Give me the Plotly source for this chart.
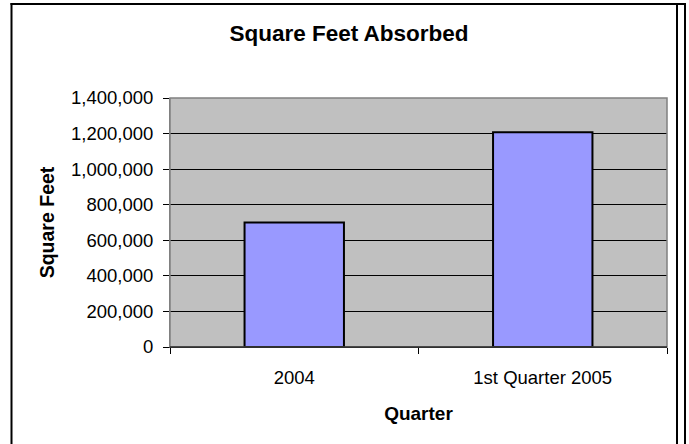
import plotly.graph_objects as go

categories = ["2004", "1st Quarter 2005"]
values = [700000, 1207000]
y_ticks = [0, 200000, 400000, 600000, 800000, 1000000, 1200000, 1400000]

W, H = 689, 444
L, T = 170, 98
R = W - 667
B = H - 347
pw, ph = W - L - R, H - T - B

def px_x(x):
    return (x - L) / pw

def px_y(y):
    return (H - B - y) / ph

fig = go.Figure(go.Bar(
    x=categories, y=values,
    marker=dict(color="#9999FF", line=dict(color="black", width=2)),
    width=0.4,
))

font_family = "Liberation Sans, Arial, sans-serif"

def filled(x0, x1, y0, y1):
    return dict(type="rect", xref="paper", yref="paper",
                x0=px_x(x0), x1=px_x(x1), y0=px_y(y1), y1=px_y(y0),
                fillcolor="black", line=dict(width=0), layer="above")

fig.update_layout(
    width=W, height=H,
    margin=dict(l=L, r=R, t=T, b=B, pad=0),
    paper_bgcolor="white",
    plot_bgcolor="#C0C0C0",
    showlegend=False,
    font=dict(family=font_family, color="black", size=18),
    title=dict(text="<b>Square Feet Absorbed</b>", x=px_x(349), xref="paper", xanchor="center",
               y=1 - 33 / H, yanchor="middle", font=dict(size=22.5, family=font_family, color="black")),
    xaxis=dict(
        type="category",
        tickson="boundaries",
        ticks="outside", ticklen=6, tickcolor="black", tickwidth=1,
        showline=True, linecolor="black", linewidth=1,
        showgrid=False,
        tickfont=dict(size=18.5),
        ticklabelstandoff=14,
        title=dict(text="<b>Quarter</b>", font=dict(size=19), standoff=19),
        range=[-0.5, 1.5],
    ),
    yaxis=dict(
        range=[0, 1400000],
        tickvals=y_ticks,
        tickformat=",",
        ticks="outside", ticklen=6, tickcolor="black", tickwidth=1,
        showline=True, linecolor="#808080", linewidth=1,
        showgrid=True, gridcolor="black", gridwidth=1,
        zeroline=False,
        tickfont=dict(size=18.5),
        ticklabelstandoff=6,
        title=dict(text="<b>Square Feet</b>", font=dict(size=19.5), standoff=11),
    ),
    shapes=[
        dict(type="rect", xref="paper", yref="paper", x0=0, x1=1, y0=0, y1=1,
             line=dict(color="#808080", width=1.5), layer="above"),
        dict(type="line", xref="paper", yref="paper", x0=0, x1=1, y0=0, y1=0,
             line=dict(color="black", width=1), layer="above"),
        filled(10.5, 686, 3, 5),      # top border
        filled(10.5, 12.5, 3, 444),   # left border
        filled(684, 686, 3, 444),     # right border (as in reference)
        filled(676, 678, 3, 444),     # right border fallback, inside the visible area
    ],
)

fig.write_html(
    "out.html",
    config={"displayModeBar": False},
    post_script="document.body.style.margin='0';document.body.style.overflow='hidden';",
)
